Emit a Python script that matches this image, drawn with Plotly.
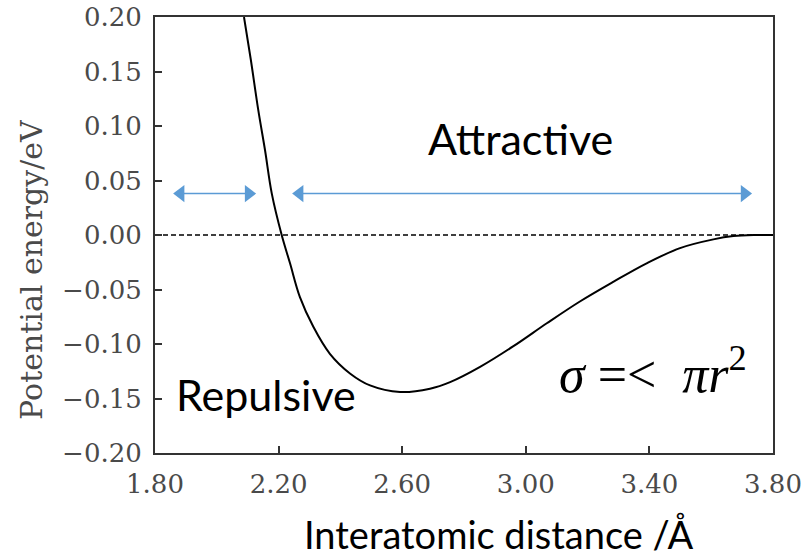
import plotly.graph_objects as go

# Potential curve
r_vals = [2.088, 2.110, 2.134, 2.156, 2.178, 2.210, 2.237, 2.269, 2.312, 2.366,
          2.431, 2.496, 2.593, 2.690, 2.755, 2.852, 2.960, 3.068, 3.175, 3.283,
          3.391, 3.499, 3.607, 3.672, 3.740, 3.800]
e_vals = [0.200, 0.161, 0.115, 0.078, 0.038, 0.000, -0.026, -0.057, -0.084, -0.109,
          -0.127, -0.138, -0.144, -0.141, -0.135, -0.121, -0.102, -0.081, -0.061, -0.043,
          -0.026, -0.012, -0.004, -0.001, 0.000, 0.000]

x_ticks = [1.80, 2.20, 2.60, 3.00, 3.40, 3.80]
y_ticks = [0.20, 0.15, 0.10, 0.05, 0.00, -0.05, -0.10, -0.15, -0.20]

# double-arrow head centres (data units)
arrow_y = 0.038
repulsive_span = [1.883, 2.103]
attractive_span = [2.268, 3.708]

fig = go.Figure()

# zero reference line
fig.add_trace(go.Scatter(x=[x_ticks[0], x_ticks[-1]], y=[0, 0], mode="lines",
                         line=dict(color="black", width=1.6, dash="5px,3px"),
                         showlegend=False, hoverinfo="skip"))

fig.add_trace(go.Scatter(x=r_vals, y=e_vals, mode="lines",
                         line=dict(color="black", width=2, shape="spline", smoothing=1.0),
                         showlegend=False))

blue = "#5B9BD5"
for span in (repulsive_span, attractive_span):
    fig.add_trace(go.Scatter(x=span, y=[arrow_y, arrow_y], mode="lines+markers",
                             line=dict(color=blue, width=1.5),
                             marker=dict(symbol=["triangle-left", "triangle-right"],
                                         size=15, color=blue, line=dict(width=0)),
                             showlegend=False, hoverinfo="skip"))

tick_font = dict(family="DejaVu Serif", size=26, color="#4a4a4a")
sans = "Lato"

fig.update_xaxes(range=[1.8, 3.8], tickvals=x_ticks, tickformat=".2f",
                 showgrid=False, zeroline=False, showline=True, linecolor="#333",
                 linewidth=2, mirror=True, ticks="inside", ticklen=7, tickwidth=2,
                 tickcolor="#333", tickfont=tick_font, ticklabelstandoff=7,
                 automargin=False)
fig.update_yaxes(range=[-0.2, 0.2], tickvals=y_ticks, tickformat=".2f",
                 showgrid=False, zeroline=False, showline=True, linecolor="#333",
                 linewidth=2, mirror=True, ticks="inside", ticklen=7, tickwidth=2,
                 tickcolor="#333", tickfont=tick_font, ticklabelstandoff=6,
                 automargin=False)

fig.add_annotation(x=0.591, y=0.722, xref="paper", yref="paper", text="Attractive",
                   showarrow=False, font=dict(family=sans, size=43, color="black"),
                   xanchor="center", yanchor="middle")
fig.add_annotation(x=0.180, y=0.135, xref="paper", yref="paper", text="Repulsive",
                   showarrow=False, font=dict(family=sans, size=43, color="black"),
                   xanchor="center", yanchor="middle")
fig.add_annotation(x=0.806, y=0.19, xref="paper", yref="paper",
                   text="<i>σ</i> =<  <i>πr</i><sup>2</sup>",
                   showarrow=False, font=dict(family="Liberation Serif", size=52, color="black"),
                   xanchor="center", yanchor="middle")
# axis titles (placed as in the reference, off-centre)
fig.add_annotation(x=0.557, y=-0.186, xref="paper", yref="paper",
                   text="Interatomic distance /Å",
                   showarrow=False, font=dict(family=sans, size=38, color="black"),
                   xanchor="center", yanchor="middle")
fig.add_annotation(x=-0.199, y=0.42, xref="paper", yref="paper",
                   text="Potential energy/eV", textangle=-90,
                   showarrow=False, font=dict(family="DejaVu Serif", size=30, color="#4a4a4a"),
                   xanchor="center", yanchor="middle")

fig.update_layout(width=811, height=558, margin=dict(l=155, r=38, t=17, b=105),
                  plot_bgcolor="white", paper_bgcolor="white", showlegend=False)

fig.write_html("out.html")
